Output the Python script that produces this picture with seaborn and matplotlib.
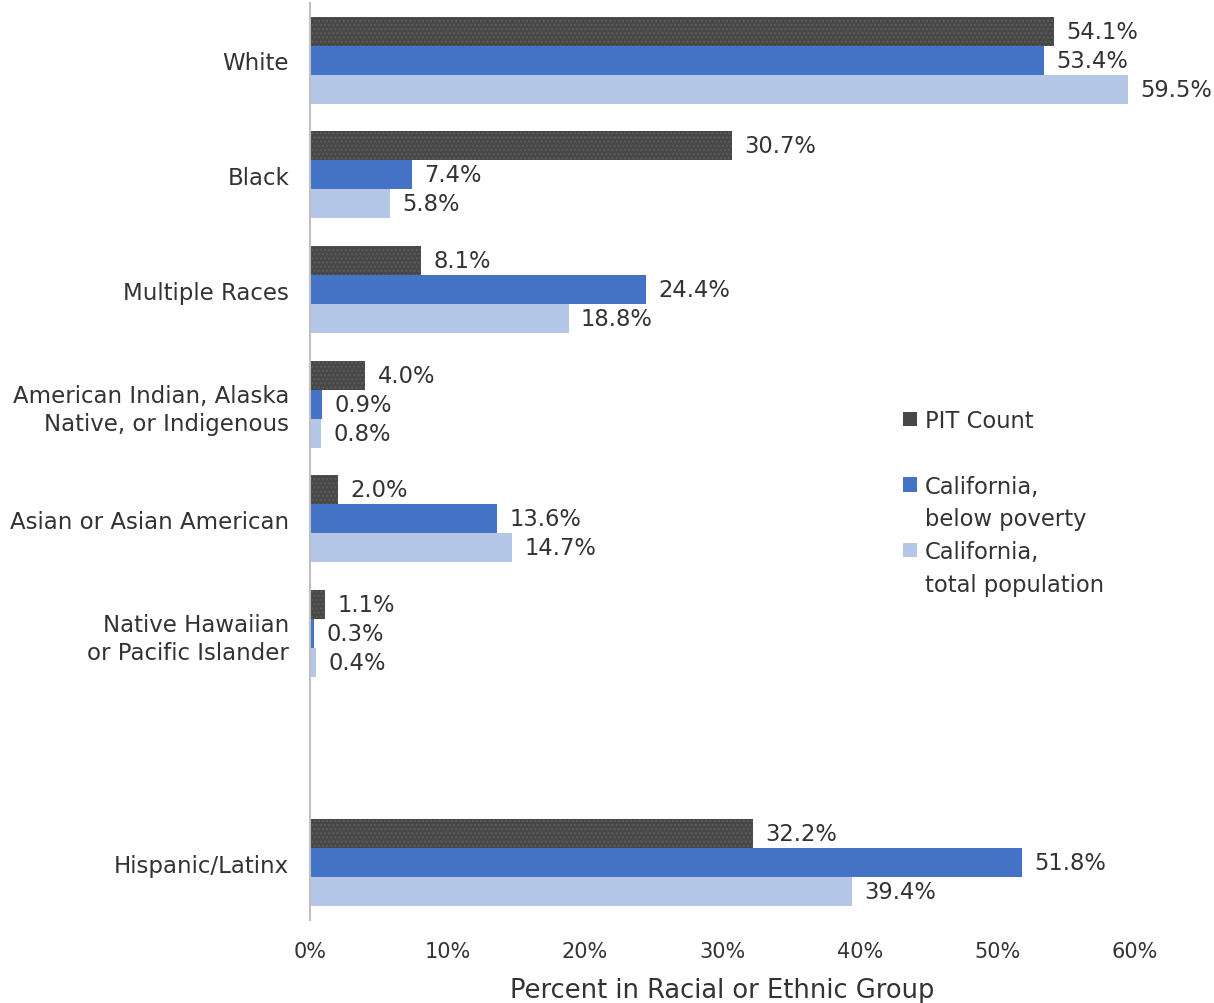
import numpy as np
import pandas as pd
import seaborn as sns
import matplotlib
matplotlib.use("Agg")
import matplotlib.pyplot as plt
from matplotlib.patches import Patch

# Categories (blank slot separates race groups from ethnicity)
groups = ["White", "Black", "Multiple Races",
          "American Indian, Alaska\nNative, or Indigenous",
          "Asian or Asian American",
          "Native Hawaiian\nor Pacific Islander",
          " ", "Hispanic/Latinx"]
plotted = [g for g in groups if g.strip()]

series = ["PIT Count", "California, below poverty", "California, total population"]
pit_count = [54.1, 30.7, 8.1, 4.0, 2.0, 1.1, 32.2]
ca_poverty = [53.4, 7.4, 24.4, 0.9, 13.6, 0.3, 51.8]
ca_total = [59.5, 5.8, 18.8, 0.8, 14.7, 0.4, 39.4]

colors = ["#474747", "#4472C4", "#B4C7E7"]
text_color = "#333333"

rows = []
for s, vals in zip(series, [pit_count, ca_poverty, ca_total]):
    for g, v in zip(plotted, vals):
        rows.append({"group": g, "series": s, "value": v})
df = pd.DataFrame(rows)

sns.set_style("white")
plt.rcParams["font.family"] = ["DejaVu Sans"]
plt.rcParams["hatch.linewidth"] = 1.0

fig = plt.figure(figsize=(12.14, 10.04), dpi=100)
ax = fig.add_axes([310 / 1214, 1 - 921 / 1004, 825 / 1214, 917 / 1004])

sns.barplot(data=df, y="group", x="value", hue="series", order=groups,
            hue_order=series, palette=colors, orient="h", width=0.76,
            saturation=1, ax=ax, linewidth=0, legend=True)

# dotted texture on the PIT Count bars
for bar in ax.containers[0]:
    bar.set_hatch("....")
    bar.set_edgecolor("#5c5c5c")

for cont in ax.containers:
    ax.bar_label(cont, fmt="%.1f%%", padding=9, fontsize=16.3, color=text_color)

ax.set_xlim(0, 60)
ax.set_xticks(np.arange(0, 61, 10))
ax.set_xticklabels([f"{t}%" for t in range(0, 61, 10)])
ax.tick_params(axis="x", length=0, pad=15, labelsize=15, labelcolor=text_color)
ax.tick_params(axis="y", length=0, pad=15, labelsize=16.5, labelcolor=text_color)
for t in ax.get_yticklabels():
    t.set_linespacing(1.3)
ax.set_ylabel("")
ax.set_xlabel("Percent in Racial or Ethnic Group", fontsize=18.5,
              color=text_color, labelpad=12)

for side in ["top", "right", "bottom"]:
    ax.spines[side].set_visible(False)
ax.spines["left"].set_color("#BFBFBF")
ax.spines["left"].set_linewidth(1.5)

# legend: one row per text line so each swatch sits beside the first line
handles, _ = ax.get_legend_handles_labels()
blank = Patch(facecolor="none", edgecolor="none")
leg_handles = [handles[0], blank, handles[1], blank, handles[2], blank]
leg_labels = ["PIT Count", " ", "California,", "below poverty",
              "California,", "total population"]
leg = ax.legend(leg_handles, leg_labels, loc="upper left",
                bbox_to_anchor=(0.708, 0.567), frameon=False, fontsize=16.3,
                handlelength=0.62, handleheight=0.62, handletextpad=0.35,
                labelspacing=0.43, labelcolor=text_color, borderaxespad=0)

fig.savefig("out.png", dpi=100)
